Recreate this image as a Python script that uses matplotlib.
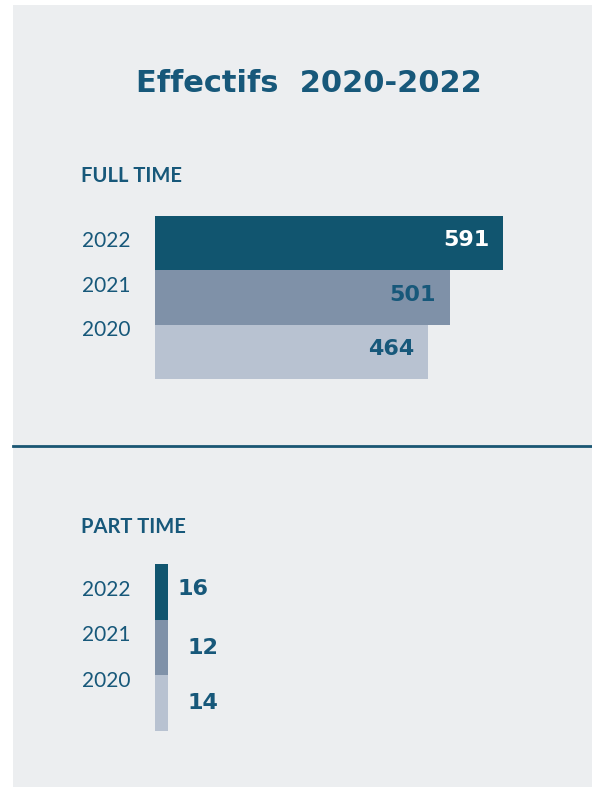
import matplotlib.pyplot as plt
from matplotlib.patches import Rectangle
from matplotlib.transforms import blended_transform_factory

# donnees
annees = ["2022", "2021", "2020"]
full_time = [591, 501, 464]
part_time = [16, 12, 14]
couleurs = ["#11556F", "#7F91A8", "#B8C2D1"]

titre = "Effectifs  2020-2022"
titre_full = "FULL TIME"
titre_part = "PART TIME"

texte = "#17587A"
fond = "#ECEEF0"
W, H = 592, 787

plt.rcParams['font.family'] = ['Lato', 'DejaVu Sans']

fig = plt.figure(figsize=(W / 100, H / 100), dpi=100)
fig.patch.set_facecolor("white")


def fx(px):
    return px / W


def fy(py):
    return 1 - py / H


# panneau gris
fig.patches.append(Rectangle((fx(13), 0), 1 - fx(13), fy(5), transform=fig.transFigure,
                             facecolor=fond, edgecolor="none", zorder=-5))
# ligne de separation
fig.add_artist(plt.Line2D([fx(13), 1], [fy(446), fy(446)], color="#1A5673", lw=2))

fig.text(fx(309), fy(84), titre, ha="center", va="center", fontsize=22,
         fontweight="bold", color=texte, family="DejaVu Sans")
fig.text(fx(81), fy(176), titre_full, ha="left", va="center", fontsize=14.5,
         fontweight="bold", color=texte)
fig.text(fx(81), fy(527), titre_part, ha="left", va="center", fontsize=14.5,
         fontweight="bold", color=texte)


def habiller(ax):
    ax.set_facecolor("none")
    ax.set_zorder(2)
    for s in ax.spines.values():
        s.set_visible(False)
    ax.set_xticks([])
    ax.set_yticks([])
    ax.set_ylim(len(annees) - 0.5, -0.5)


def etiquettes_annees(ax):
    trans = blended_transform_factory(fig.transFigure, ax.transAxes)
    for i, a in enumerate(annees):
        ax.text(fx(82), 1 - (0.155 + 0.273 * i), a, transform=trans,
                ha="left", va="center", fontsize=15, color=texte)


# ---- FULL TIME
ax1 = fig.add_axes([fx(155), fy(379), fx(503) - fx(155), fy(216) - fy(379)])
habiller(ax1)
ax1.barh(range(len(annees)), full_time, height=1.0, color=couleurs)
ax1.set_xlim(0, max(full_time))
for i, v in enumerate(full_time):
    ax1.annotate(str(v), (v, i), xytext=(-10, 2), textcoords="offset points",
                 ha="right", va="center", fontsize=16, fontweight="bold",
                 color="white" if i == 0 else texte, family="DejaVu Sans")
etiquettes_annees(ax1)

# ---- PART TIME (barres de largeur identique, comme sur l'original)
ax2 = fig.add_axes([fx(155), fy(731), fx(168) - fx(155), fy(564) - fy(731)])
habiller(ax2)
ax2.barh(range(len(annees)), [1] * len(part_time), height=1.0, color=couleurs)
ax2.set_xlim(0, 1)
for i, v in enumerate(part_time):
    ax2.annotate(str(v), (1, i), xytext=(7 if i == 0 else 14, 2 if i == 0 else 0),
                 textcoords="offset points", ha="left", va="center", fontsize=16,
                 fontweight="bold", color=texte, family="DejaVu Sans")
etiquettes_annees(ax2)

fig.savefig("out.png", dpi=100, facecolor=fig.get_facecolor())
